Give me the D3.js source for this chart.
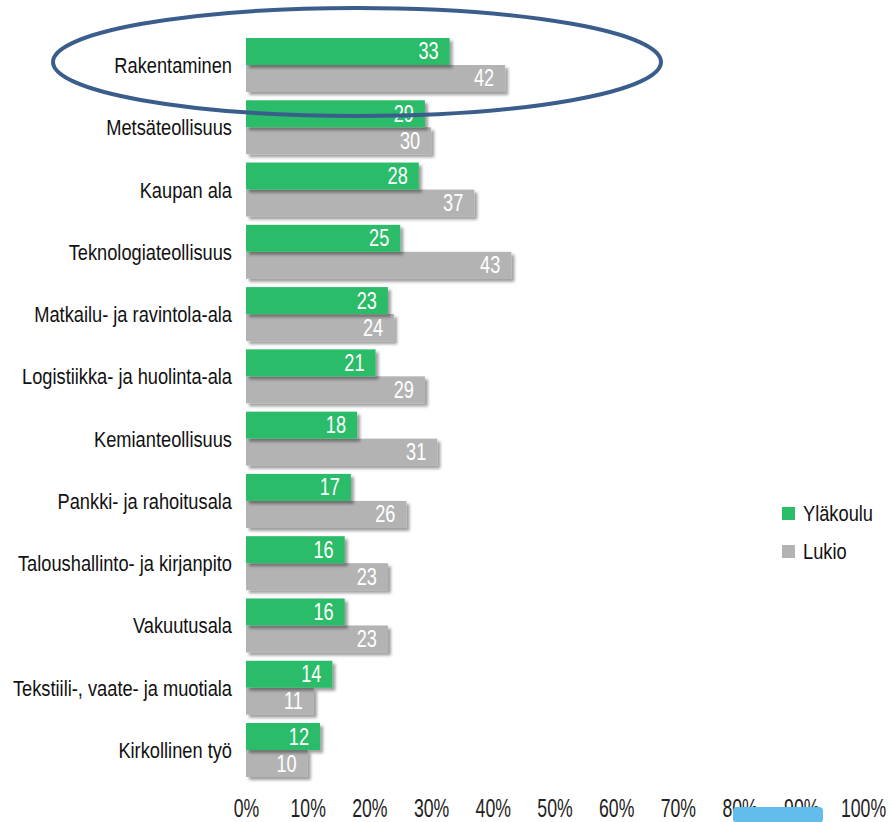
<!DOCTYPE html>
<html>
<head>
<meta charset="utf-8">
<script src="https://cdn.jsdelivr.net/npm/d3@7"></script>
<style>
  body { margin: 0; background: #fff; }
  svg { display: block; }
  .narrow { font-family: "Liberation Sans", Arial, sans-serif; }
</style>
</head>
<body>
<svg id="chart" width="893" height="822"></svg>
<script>
const categories = [
  'Rakentaminen', 'Metsäteollisuus', 'Kaupan ala', 'Teknologiateollisuus',
  'Matkailu- ja ravintola-ala', 'Logistiikka- ja huolinta-ala', 'Kemianteollisuus',
  'Pankki- ja rahoitusala', 'Taloushallinto- ja kirjanpito', 'Vakuutusala',
  'Tekstiili-, vaate- ja muotiala', 'Kirkollinen työ'
];
const series = ['Yläkoulu', 'Lukio'];
const ylakoulu = [33, 29, 28, 25, 23, 21, 18, 17, 16, 16, 14, 12];
const lukio = [42, 30, 37, 43, 24, 29, 31, 26, 23, 23, 11, 10];
const ticks = [0, 10, 20, 30, 40, 50, 60, 70, 80, 90, 100];

const colors = { 'Yläkoulu': '#2bbc68', 'Lukio': '#b3b3b3' };
const squeeze = 0.83; // the original font is a condensed face

const rows = categories.map((c, i) => ({
  cat: c,
  vals: [{ s: 'Yläkoulu', v: ylakoulu[i] }, { s: 'Lukio', v: lukio[i] }]
}));

const svg = d3.select('#chart');

const defs = svg.append('defs');
const f = defs.append('filter').attr('id', 'shadow')
  .attr('x', '-5%').attr('y', '-20%').attr('width', '120%').attr('height', '160%');
f.append('feDropShadow')
  .attr('dx', 3).attr('dy', 3).attr('stdDeviation', 1.6)
  .attr('flood-color', '#000').attr('flood-opacity', 0.38);

const x = d3.scaleLinear().domain([0, 100]).range([246, 863]);
const y = d3.scaleBand().domain(categories).range([38, 777]).paddingInner(0.133).paddingOuter(0);
const ySub = d3.scaleBand().domain(series).range([0, y.bandwidth()]);

const groups = svg.append('g').selectAll('g')
  .data(rows)
  .enter()
  .append('g')
  .attr('transform', d => `translate(0,${y(d.cat)})`);

// grey first so the green bar sits over its shadow
groups.selectAll('rect')
  .data(d => d.vals.slice().reverse())
  .enter()
  .append('rect')
  .attr('x', x(0))
  .attr('y', d => ySub(d.s))
  .attr('width', d => x(d.v) - x(0))
  .attr('height', ySub.bandwidth())
  .attr('fill', d => colors[d.s])
  .attr('filter', 'url(#shadow)');

groups.selectAll('text.val')
  .data(d => d.vals)
  .enter()
  .append('text')
  .attr('class', 'val narrow')
  .attr('transform', d => `translate(${x(d.v) - 11},${ySub(d.s) + ySub.bandwidth() / 2 + 8}) scale(0.79,1)`)
  .attr('text-anchor', 'end')
  .attr('fill', '#fff')
  .attr('font-size', 23)
  .text(d => d.v);

groups.append('text')
  .attr('class', 'narrow')
  .attr('transform', `translate(232,${y.bandwidth() / 2 + 8}) scale(${squeeze},1)`)
  .attr('text-anchor', 'end')
  .attr('fill', '#111')
  .attr('font-size', 22)
  .text(d => d.cat);

// x axis, labels only
const xAxis = d3.axisBottom(x).tickValues(ticks).tickSize(0).tickFormat(d => d + '%');
const ax = svg.append('g').attr('transform', 'translate(0,796)').call(xAxis);
ax.select('.domain').remove();
ax.selectAll('text')
  .attr('class', 'narrow')
  .attr('font-size', 26)
  .attr('fill', '#222')
  .attr('dy', '0.71em')
  .attr('transform', 'scale(0.68,1)');

// legend
const legend = svg.append('g').attr('transform', 'translate(782,507)');
const li = legend.selectAll('g').data(series).enter().append('g')
  .attr('transform', (d, i) => `translate(0,${i * 38})`);
li.append('rect').attr('width', 13).attr('height', 13).attr('fill', d => colors[d]);
li.append('text')
  .attr('class', 'narrow')
  .attr('transform', `translate(21,14) scale(${squeeze},1)`)
  .attr('font-size', 22)
  .attr('fill', '#111')
  .text(d => d);

// highlight ring around the first category
svg.append('ellipse')
  .attr('cx', 357).attr('cy', 62).attr('rx', 304).attr('ry', 54)
  .attr('fill', 'none')
  .attr('stroke', '#3a5d8c')
  .attr('stroke-width', 4);

// light blue smudge over the 80% / 90% labels
svg.append('rect')
  .attr('x', 733).attr('y', 807).attr('width', 90).attr('height', 16)
  .attr('rx', 4)
  .attr('fill', '#62bdec');
</script>
</body>
</html>
